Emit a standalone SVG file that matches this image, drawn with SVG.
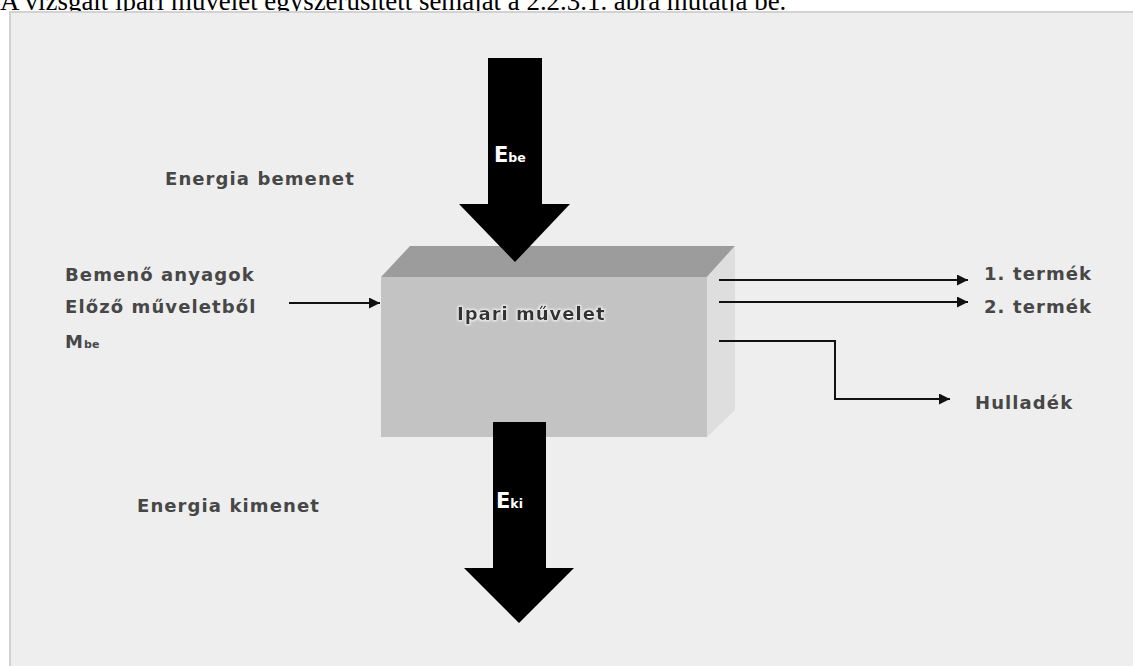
<svg xmlns="http://www.w3.org/2000/svg" width="1133" height="666" viewBox="0 0 1133 666">
  <defs>
    <style>
      .lbl { font-family: "DejaVu Sans", Verdana, sans-serif; font-weight: bold; font-size: 18px; letter-spacing: 1.1px; fill: #474747; }
      .sub { font-size: 11px; letter-spacing: 0; }
      .wlbl { font-family: "DejaVu Sans", Verdana, sans-serif; font-weight: bold; fill: #ffffff; }
      .flow { stroke: #111; stroke-width: 2; fill: none; }
    </style>
    <marker id="ah" viewBox="0 0 10 10" refX="10" refY="5" markerWidth="18" markerHeight="11" markerUnits="userSpaceOnUse" orient="auto">
      <path d="M0,0 L10,5 L0,10 z" fill="#111"/>
    </marker>
    <filter id="halo" x="-10%" y="-30%" width="120%" height="160%">
      <feMorphology in="SourceAlpha" operator="dilate" radius="1.2" result="d"/>
      <feGaussianBlur in="d" stdDeviation="1.2" result="b"/>
      <feFlood flood-color="#ffffff" flood-opacity="0.8"/>
      <feComposite in2="b" operator="in" result="g"/>
      <feMerge><feMergeNode in="g"/><feMergeNode in="SourceGraphic"/></feMerge>
    </filter>
  </defs>

  <rect width="1133" height="666" fill="#ffffff"/>
  <text x="0" y="10" font-family="Liberation Serif, serif" font-size="26.9" fill="#000">A vizsgált ipari művelet egyszerűsített sémáját a 2.2.3.1. ábra mutatja be.</text>

  <!-- panel -->
  <rect x="10" y="12" width="1130" height="660" fill="#eeeeee" stroke="#d2d2d2" stroke-width="2"/>

  <!-- process block -->
  <g id="process">
    <polygon points="381,277 410,246 735,246 707,277" fill="#9c9c9c"/>
    <polygon points="707,277 735,246 735,410 707,437" fill="#dedede"/>
    <rect x="381" y="277" width="326" height="160" fill="#c3c3c3"/>
    <text x="457" y="320" class="lbl" style="fill:#333;letter-spacing:1px" filter="url(#halo)">Ipari művelet</text>
  </g>

  <!-- energy in -->
  <g id="energy-in">
    <polygon points="488,58 542,58 542,204 570,204 515,262 459,204 488,204" fill="#000"/>
    <text x="494" y="162" class="wlbl" font-size="21">E<tspan font-size="12.5">be</tspan></text>
  </g>
  <text id="energy-in-label" x="165" y="185" class="lbl">Energia bemenet</text>

  <!-- energy out -->
  <g id="energy-out">
    <polygon points="493,422 546,422 546,568 574,568 519,623 464,568 493,568" fill="#000"/>
    <text x="496" y="508" class="wlbl" font-size="21">E<tspan font-size="12.5">ki</tspan></text>
  </g>
  <text id="energy-out-label" x="137" y="512" class="lbl">Energia kimenet</text>

  <!-- input materials -->
  <g id="input">
    <text x="65" y="281" class="lbl">Bemenő anyagok</text>
    <text x="65" y="313" class="lbl">Előző műveletből</text>
    <text x="65" y="348" class="lbl">M<tspan class="sub">be</tspan></text>
  </g>

  <!-- outputs -->
  <g id="product-1"><text x="984" y="280" class="lbl">1. termék</text></g>
  <g id="product-2"><text x="984" y="313" class="lbl">2. termék</text></g>
  <g id="waste"><text x="975" y="409" class="lbl">Hulladék</text></g>

  <g id="connectors">
    <line x1="289" y1="303" x2="380" y2="303" class="flow" marker-end="url(#ah)"/>
    <line x1="719" y1="280" x2="968" y2="280" class="flow" marker-end="url(#ah)"/>
    <line x1="719" y1="302" x2="968" y2="302" class="flow" marker-end="url(#ah)"/>
    <polyline points="719,341 835,341 835,399 950,399" class="flow" marker-end="url(#ah)"/>
  </g>
</svg>
